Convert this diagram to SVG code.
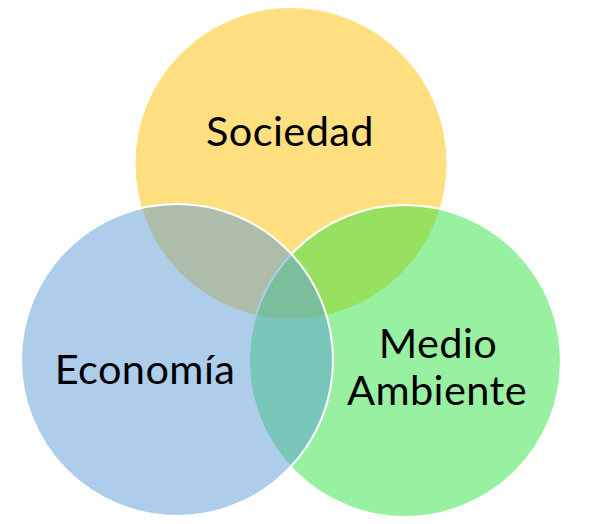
<svg xmlns="http://www.w3.org/2000/svg" width="589" height="524" viewBox="0 0 589 524">
  <style>
    .c { fill-opacity: 0.5; stroke: #ffffff; stroke-width: 2; }
    .t { font-family: Lato, "Liberation Sans", sans-serif; font-size: 41.5px; letter-spacing: 0.4px; fill: #000000; text-anchor: middle; }
  </style>
  <rect width="589" height="524" fill="#ffffff"/>
  <g id="sociedad">
    <circle class="c" cx="291" cy="163.5" r="156.5" fill="#FFC000"/>
  </g>
  <g id="medio-ambiente">
    <circle class="c" cx="405" cy="361" r="156" fill="#32E441"/>
  </g>
  <g id="economia">
    <circle class="c" cx="177" cy="360" r="156" fill="#5B9BD5"/>
  </g>
  <g id="labels">
    <text class="t" x="290" y="146">Sociedad</text>
    <text class="t" x="145" y="383.5">Economía</text>
    <text class="t" x="438" y="357.5">Medio</text>
    <text class="t" x="437" y="405">Ambiente</text>
  </g>
</svg>
